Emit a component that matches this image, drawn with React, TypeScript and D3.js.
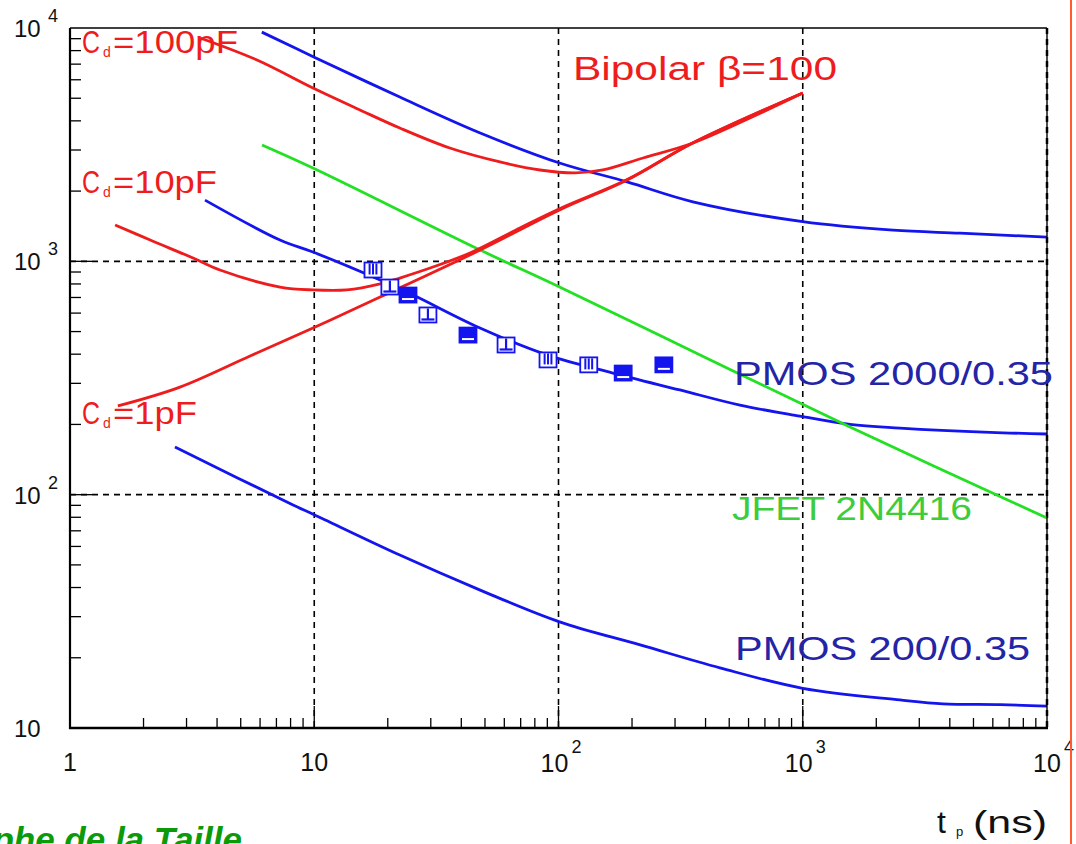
import React from "react";
import * as d3 from "d3";

// ENC (electrons rms) versus peaking time t_p (ns)

// Bipolar beta = 100, three detector capacitances
const T_BIP_1PF = [1.57, 2.82, 5.46, 9.88, 18.6, 47.8, 101, 191, 355, 1000];
const ENC_BIP_1PF = [240, 289, 393, 518, 703, 1118, 1660, 2231, 3215, 5265];

const T_BIP_10PF = [1.53, 2.13, 3.19, 4.11, 7.24, 9.88, 13.6, 18.6, 22.4, 29.8, 43.4, 69.5, 101, 191, 355, 1000];
const ENC_BIP_10PF = [1432, 1234, 1033, 918, 776, 754, 754, 800, 848, 936, 1086, 1390, 1680, 2240, 3220, 5270];

const T_BIP_100PF = [3.41, 5.83, 9.88, 15.4, 22.4, 35.9, 57.6, 84.0, 117, 152, 222, 355, 608, 1000];
const ENC_BIP_100PF = [9060, 7290, 5530, 4453, 3727, 3060, 2666, 2463, 2392, 2463, 2772, 3215, 4114, 5265];

// PMOS 2000/0.35 at two capacitances
const T_PMOS2000_HI = [6.1, 10, 22.4, 47.8, 101, 191, 355, 1000, 2344, 4406, 10000];
const ENC_PMOS2000_HI = [9600, 7500, 5060, 3550, 2640, 2190, 1800, 1480, 1360, 1320, 1270];

const T_PMOS2000 = [3.57, 7.24, 9.88, 18.6, 25.4, 47.7, 89.7, 167, 314, 553, 974, 1561, 2500, 5848, 10000];
const ENC_PMOS2000 = [1830, 1234, 1096, 832, 717, 518, 397, 332, 281, 242, 217, 200, 193, 185, 182];

// PMOS 200/0.35
const T_PMOS200 = [2.69, 8.19, 10, 22.4, 47.8, 101, 216, 458, 1000, 2500, 3750, 6425, 10000];
const ENC_PMOS200 = [160, 90.3, 82, 55.1, 39.0, 28.5, 22.7, 18.1, 14.8, 13.2, 12.7, 12.6, 12.4];

// JFET 2N4416
const T_JFET = [6.11, 9.88, 47.8, 101, 380, 1561, 10000];
const ENC_JFET = [3154, 2512, 1118, 776, 397, 195, 79.4];

// Measured PMOS 2000/0.35 points
const MEAS_T = [17.4, 20.4, 24.2, 29.2, 42.6, 61, 90.6, 133, 184, 270];
const MEAS_ENC = [918, 776, 717, 589, 483, 438, 378, 360, 332, 360];
const MEAS_GLYPH = ["bars", "tee", "filled", "tee", "filled", "tee", "bars", "bars", "filled", "filled"];

// Axis decades
const X_DECADES = [1, 10, 100, 1000, 10000];
const X_EXP = ["", "", "2", "3", "4"];
const Y_DECADES = [10, 100, 1000, 10000];
const Y_EXP = ["", "2", "3", "4"];

const W = 1076;
const H = 844;
const L = 70, R = 1047, T = 28, B = 728;

const RED = "#ee1c1c";
const BLUE = "#1414ee";
const GREEN = "#22e022";
const NAVY = "#2424a6";
const FONT = "'Liberation Sans', Arial, Helvetica, sans-serif";

export default function App() {
  const x = d3.scaleLog().domain([1, 10000]).range([L, R]);
  const y = d3.scaleLog().domain([10, 10000]).range([B, T]);

  const line = (ts: number[], vs: number[]) =>
    d3
      .line<number>()
      .x((_, i) => x(ts[i]))
      .y((v) => y(v))
      .curve(d3.curveCatmullRom.alpha(0.5))(vs) || "";

  const series = [
    { ts: T_PMOS2000_HI, vs: ENC_PMOS2000_HI, c: BLUE },
    { ts: T_PMOS2000, vs: ENC_PMOS2000, c: BLUE },
    { ts: T_PMOS200, vs: ENC_PMOS200, c: BLUE },
    { ts: T_JFET, vs: ENC_JFET, c: GREEN },
    { ts: T_BIP_1PF, vs: ENC_BIP_1PF, c: RED },
    { ts: T_BIP_10PF, vs: ENC_BIP_10PF, c: RED },
    { ts: T_BIP_100PF, vs: ENC_BIP_100PF, c: RED },
  ];

  const xMinor: number[] = [];
  for (let d = 1; d < 10000; d *= 10) for (let k = 2; k <= 9; k++) xMinor.push(d * k);
  const yMinor: number[] = [];
  for (let d = 10; d < 10000; d *= 10) for (let k = 2; k <= 9; k++) yMinor.push(d * k);

  const grid = "#000";
  const mw = 17;
  const mh = 15;

  return (
    <svg
      width={W}
      height={H}
      style={{ position: "absolute", left: 0, top: 0, display: "block", background: "#fff" }}
    >
      <rect x={0} y={0} width={W} height={H} fill="#fff" />

      {/* dashed decade grid */}
      {X_DECADES.slice(1).map((v) => (
        <line key={"gx" + v} x1={x(v)} x2={x(v)} y1={T} y2={B} stroke={grid} strokeWidth={v === 10000 ? 2.5 : 1.6} strokeDasharray="6 5" />
      ))}
      {Y_DECADES.slice(1, 3).map((v) => (
        <line key={"gy" + v} x1={L} x2={R} y1={y(v)} y2={y(v)} stroke={grid} strokeWidth={1.6} strokeDasharray="6 5" />
      ))}

      {/* curves */}
      {series.map((s, i) => (
        <path key={"s" + i} d={line(s.ts, s.vs)} fill="none" stroke={s.c} strokeWidth={2.8} strokeLinejoin="round" />
      ))}

      {/* measured points */}
      {MEAS_T.map((t, i) => {
        const cx = x(t), cy = y(MEAS_ENC[i]);
        const g = MEAS_GLYPH[i];
        const x0 = cx - mw / 2, y0 = cy - mh / 2;
        return (
          <g key={"m" + i}>
            <rect x={x0} y={y0} width={mw} height={mh} fill={g === "filled" ? BLUE : "#fff"} stroke={BLUE} strokeWidth={1.8} />
            {g === "bars" &&
              [0.3, 0.5, 0.7].map((f) => (
                <line key={f} x1={x0 + mw * f} x2={x0 + mw * f} y1={y0 + 1} y2={y0 + mh - 3} stroke={BLUE} strokeWidth={2} />
              ))}
            {g === "tee" && (
              <>
                <line x1={x0 + mw / 2} x2={x0 + mw / 2} y1={y0 + 1} y2={y0 + mh - 3} stroke={BLUE} strokeWidth={2.2} />
                <line x1={x0 + 2} x2={x0 + mw - 2} y1={y0 + mh - 3} y2={y0 + mh - 3} stroke={BLUE} strokeWidth={2.2} />
              </>
            )}
            {g === "filled" && (
              <line x1={x0 + 2.5} x2={x0 + mw - 2.5} y1={y0 + mh - 3.5} y2={y0 + mh - 3.5} stroke="#fff" strokeWidth={2} />
            )}
          </g>
        );
      })}

      {/* frame */}
      <line x1={L} x2={R} y1={T} y2={T} stroke="#000" strokeWidth={1.6} />
      <line x1={R} x2={R} y1={T} y2={B} stroke="#000" strokeWidth={1.4} />
      <line x1={L} x2={L} y1={T} y2={B + 1} stroke="#000" strokeWidth={2.2} />
      <line x1={L - 1} x2={R + 1} y1={B} y2={B} stroke="#000" strokeWidth={2.6} />

      {/* ticks */}
      {xMinor.map((v) => (
        <line key={"xt" + v} x1={x(v)} x2={x(v)} y1={B} y2={B - 10} stroke="#000" strokeWidth={1.3} />
      ))}
      {X_DECADES.slice(1, 4).map((v) => (
        <line key={"xT" + v} x1={x(v)} x2={x(v)} y1={B} y2={B - 22} stroke="#000" strokeWidth={1.3} />
      ))}
      {yMinor.map((v) => (
        <line key={"yt" + v} x1={L} x2={L + 11} y1={y(v)} y2={y(v)} stroke="#000" strokeWidth={1.3} />
      ))}
      {Y_DECADES.slice(1, 3).map((v) => (
        <line key={"yT" + v} x1={L} x2={L + 22} y1={y(v)} y2={y(v)} stroke="#000" strokeWidth={1.3} />
      ))}

      {/* y tick labels */}
      <g fontFamily={FONT} fill="#111">
        {Y_DECADES.map((v, i) => (
          <text key={"yl" + v} y={y(v) + 9} fontSize={24}>
            <tspan x={14}>10</tspan>
            {Y_EXP[i] && (
              <tspan x={48} dy={-15} fontSize={18}>{Y_EXP[i]}</tspan>
            )}
          </text>
        ))}
        {/* x tick labels */}
        {X_DECADES.map((v, i) =>
          i < 2 ? (
            <text key={"xl" + v} x={x(v)} y={771} fontSize={25} textAnchor="middle">{i === 0 ? "1" : "10"}</text>
          ) : (
            <text key={"xl" + v} y={772} fontSize={25}>
              <tspan x={x(v) + (i === 4 ? 14 : 10) - 28}>10</tspan>
              <tspan x={x(v) + (i === 4 ? 17 : 13)} dy={-19} fontSize={18}>{X_EXP[i]}</tspan>
            </text>
          )
        )}
        {/* axis title */}
        <text y={833} fontSize={32}>
          <tspan x={937}>t</tspan>
          <tspan x={956} dy={3} fontSize={13}>p</tspan>
          <tspan x={973} dy={-3} textLength={74} lengthAdjust="spacingAndGlyphs">(ns)</tspan>
        </text>
      </g>

      {/* capacitance labels */}
      <g fontFamily={FONT} fill={RED}>
        {[
          { yb: 53, rest: "=100pF", end: 238 },
          { yb: 193, rest: "=10pF", end: 217 },
          { yb: 424, rest: "=1pF", end: 197 },
        ].map((lb) => (
          <text key={lb.rest} y={lb.yb} fontSize={31}>
            <tspan x={82} textLength={18} lengthAdjust="spacingAndGlyphs">C</tspan>
            <tspan x={103} dy={4} fontSize={14}>d</tspan>
            <tspan x={113} dy={-4} textLength={lb.end - 113} lengthAdjust="spacingAndGlyphs">{lb.rest}</tspan>
          </text>
        ))}
        <text x={573} y={80} fontSize={34} textLength={264} lengthAdjust="spacingAndGlyphs">Bipolar β=100</text>
      </g>

      <g fontFamily={FONT}>
        <text x={734} y={385} fontSize={34} fill={NAVY} textLength={319} lengthAdjust="spacingAndGlyphs">PMOS 2000/0.35</text>
        <text x={732} y={520} fontSize={34} fill="#3ccc3c" textLength={240} lengthAdjust="spacingAndGlyphs">JFET 2N4416</text>
        <text x={735} y={660} fontSize={34} fill={NAVY} textLength={295} lengthAdjust="spacingAndGlyphs">PMOS 200/0.35</text>
      </g>

      {/* author credit */}
      <text x={242} y={852} fontFamily={FONT} fontSize={35} fontWeight="bold" fontStyle="italic" fill="#0a9a0a" textAnchor="end">
        Christophe de la Taille
      </text>

      {/* page edge rule */}
      <line x1={1071} x2={1071} y1={0} y2={H} stroke="#ff5a30" strokeWidth={2} />
    </svg>
  );
}
